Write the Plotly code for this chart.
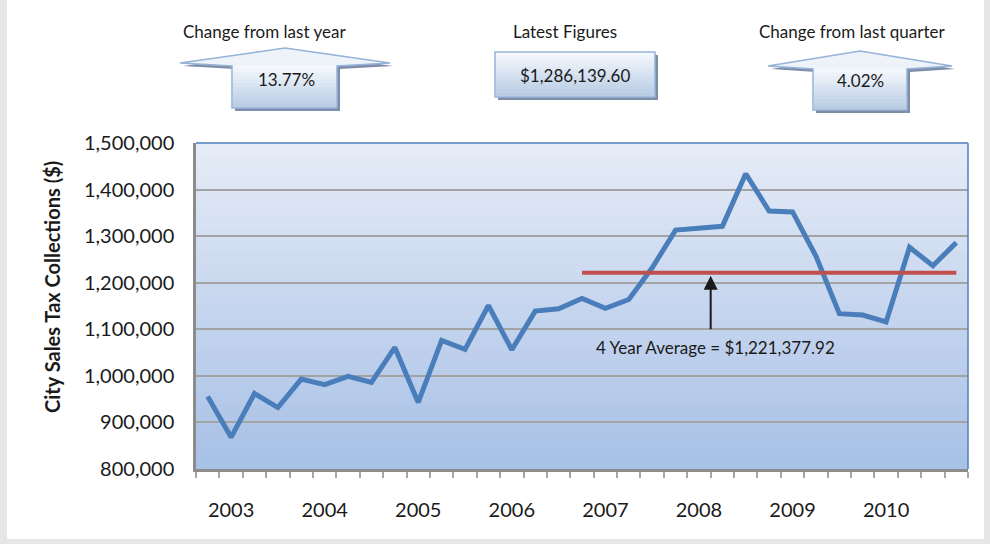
import plotly.graph_objects as go

# quarterly city sales tax collections (33 quarters, 2002 Q4 .. 2010 Q4)
collections = [955700, 868000, 962000, 932000, 993000, 981000, 999000, 986000,
               1061000, 943000, 1076000, 1057000, 1151000, 1056000, 1139000, 1144000,
               1166000, 1145000, 1164000, 1232000, 1313000, 1316000, 1321000, 1434000,
               1354000, 1352000, 1257000, 1133600, 1130474, 1115700, 1276000, 1236435,
               1286139.60]
year_labels = ["2003", "2004", "2005", "2006", "2007", "2008", "2009", "2010"]
year_pos = [1, 5, 9, 13, 17, 21, 25, 29]
avg_start = 16
four_year_avg = 1221377.92
latest = 1286139.60
chg_year = 13.77
chg_quarter = 4.02

FONT = "Lato"
W, H = 990, 544
L, R, T, B = 196, 968, 143, 469


def px(x):
    return (x - L) / (R - L)


def py(y):
    return (B - y) / (B - T)


def mix(c1, c2, t):
    return "rgb(%d,%d,%d)" % tuple(round(a + (b - a) * t) for a, b in zip(c1, c2))


quarters = list(range(len(collections)))

fig = go.Figure()
fig.add_trace(go.Scatter(x=quarters, y=collections, mode="lines",
                         line=dict(color="#4a7ebb", width=5), hoverinfo="skip"))
fig.add_trace(go.Scatter(x=quarters[avg_start:], y=[four_year_avg] * len(quarters[avg_start:]),
                         mode="lines", line=dict(color="#c0504d", width=4), hoverinfo="skip"))

shapes = []
# outer frame
shapes.append(dict(type="rect", xref="paper", yref="paper", x0=px(7), x1=px(984), y0=py(0), y1=py(539),
                   fillcolor="white", line_width=0, layer="below"))
# plot area gradient
n = 30
for i in range(n):
    shapes.append(dict(type="rect", xref="x domain", yref="y domain", x0=0, x1=1,
                       y0=1 - (i + 1) / n, y1=1 - i / n + 0.002,
                       fillcolor=mix((229, 235, 247), (168, 193, 230), i / (n - 1)),
                       line_width=0, layer="below"))
# top and right blue border
shapes.append(dict(type="line", xref="x domain", yref="y domain", x0=0, x1=1, y0=1, y1=1,
                   line=dict(color="#4f81bd", width=1.5)))
shapes.append(dict(type="line", xref="x domain", yref="y domain", x0=1, x1=1, y0=0, y1=1,
                   line=dict(color="#4f81bd", width=1.5)))


def path_of(pts):
    return "M " + " L ".join("%f,%f" % (px(x), py(y)) for x, y in pts) + " Z"


def box_shapes(outline, body_x0, body_x1, top, bottom):
    out = []
    shadow = [(x + 3, y + 3) for x, y in outline]
    out.append(dict(type="path", xref="paper", yref="paper", path=path_of(shadow),
                    fillcolor="#7f8ea8", line_width=0))
    out.append(dict(type="path", xref="paper", yref="paper", path=path_of(outline),
                    fillcolor="#eef3fa", line_width=0))
    m = 12
    for i in range(m):
        y0 = top + (bottom - top) * i / m
        y1 = top + (bottom - top) * (i + 1) / m
        out.append(dict(type="rect", xref="paper", yref="paper", x0=px(body_x0), x1=px(body_x1),
                        y0=py(y0 - 0.3), y1=py(y1), line_width=0,
                        fillcolor=mix((244, 247, 252), (185, 205, 229), i / (m - 1))))
    out.append(dict(type="path", xref="paper", yref="paper", path=path_of(outline),
                    fillcolor="rgba(0,0,0,0)", line=dict(color="#95b3d7", width=1.5)))
    return out


left_arrow = [(285, 48), (390, 63), (337, 66), (337, 108), (232, 108), (232, 66), (180, 63)]
shapes += box_shapes(left_arrow, 232.8, 336.2, 66, 107.5)
mid_box = [(495, 52), (655, 52), (655, 97), (495, 97)]
shapes += box_shapes(mid_box, 495.8, 654.2, 52, 96.5)
right_arrow = [(860, 51), (952, 66), (907, 69), (907, 110), (813, 110), (813, 69), (768, 66)]
shapes += box_shapes(right_arrow, 813.8, 906.2, 69, 109.5)

txt = dict(family=FONT, size=17, color="#1a1a1a")


def label(x, y, text, font=txt, **kw):
    return dict(xref="paper", yref="paper", x=px(x), y=py(y), text=text, showarrow=False,
                xanchor="center", yanchor="middle", font=font, **kw)


annotations = [
    label(264, 31, "Change from last year"),
    label(286, 79, "%.2f%%" % chg_year),
    label(565, 31, "Latest Figures"),
    label(575, 75, "${:,.2f}".format(latest)),
    label(852, 31, "Change from last quarter"),
    label(860, 80, "%.2f%%" % chg_quarter),
    label(52, 287, "<b>City Sales Tax Collections ($)</b>", textangle=-90,
          font=dict(family=FONT, size=20, color="#1a1a1a")),
    dict(x=21.5, y=four_year_avg, xref="x", yref="y", text="", showarrow=True, arrowhead=2,
         arrowsize=1.4, arrowwidth=2, arrowcolor="#1a1a1a", ax=0, ay=58, standoff=3),
    label(715, 347, "4 Year Average = ${:,.2f}".format(four_year_avg)),
]

fig.update_layout(
    width=W, height=H, autosize=False,
    margin=dict(l=L, r=W - R, t=T, b=H - B),
    paper_bgcolor="#e6e6e6", plot_bgcolor="rgba(0,0,0,0)",
    showlegend=False, shapes=shapes, annotations=annotations,
    font=dict(family=FONT, color="#1a1a1a"),
)
fig.update_xaxes(range=[-0.5, len(collections) - 0.5], tickmode="array", tickvals=year_pos,
                 ticktext=year_labels, ticks="", tickfont=dict(size=20), ticklabelstandoff=21,
                 showgrid=False, zeroline=False, showline=True, linecolor="#8c8c8c", linewidth=2.5,
                 minor=dict(tickmode="linear", tick0=-0.5, dtick=1, ticks="outside", ticklen=6,
                            tickcolor="#a6a6a6", tickwidth=1.5, showgrid=False))
fig.update_yaxes(range=[800000, 1500000], dtick=100000, tickformat=",", tickfont=dict(size=20),
                 ticklabelstandoff=15, gridcolor="#a3a3a3", gridwidth=1.5, zeroline=False,
                 showline=True, linecolor="#8c8c8c", linewidth=2.5)

# page body margin off so the figure fills the window exactly
fig.write_html("out.html", config={"displayModeBar": False},
               post_script="document.body.style.margin='0';")
